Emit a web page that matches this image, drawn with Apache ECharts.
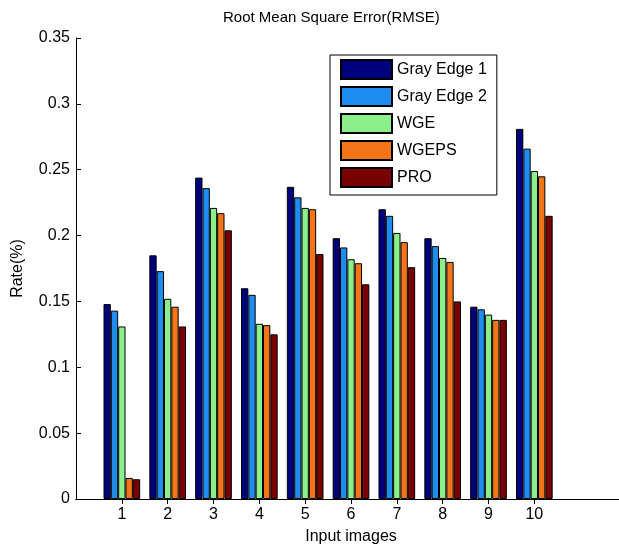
<!DOCTYPE html>
<html lang="en">
<head>
    <meta charset="UTF-8">
    <title>Root Mean Square Error(RMSE)</title>
    <style>
        html, body {margin: 0; padding: 0; background: #fff;}
        #chart {width: 619px; height: 548px;}
    </style>
</head>
<body>
<div id="chart"></div>
<script src="https://cdn.jsdelivr.net/npm/echarts@6/dist/echarts.min.js"></script>
<script>
    // values
    let categories = ['1', '2', '3', '4', '5', '6', '7', '8', '9', '10'];
    let grayEdge1  = [0.148, 0.185, 0.244, 0.160, 0.237, 0.198, 0.220, 0.198, 0.146, 0.281];
    let grayEdge2  = [0.143, 0.173, 0.236, 0.155, 0.229, 0.191, 0.215, 0.192, 0.144, 0.266];
    let wge        = [0.131, 0.152, 0.221, 0.133, 0.221, 0.182, 0.202, 0.183, 0.140, 0.249];
    let wgeps      = [0.016, 0.146, 0.217, 0.132, 0.220, 0.179, 0.195, 0.180, 0.136, 0.245];
    let pro        = [0.015, 0.131, 0.204, 0.125, 0.186, 0.163, 0.176, 0.150, 0.136, 0.215];
    let seriesNames  = ['Gray Edge 1', 'Gray Edge 2', 'WGE', 'WGEPS', 'PRO'];
    let seriesColors = ['#00007c', '#1e8cf0', '#8cf08a', '#f47418', '#780000'];

    let font = "'Liberation Sans', Arial, sans-serif";

    // axis runs 0..12 like the matlab plot, groups sit on 1..10
    let axisCats = [''].concat(categories, ['', '']);
    let pad      = function (arr) {
        return ['-'].concat(arr, ['-', '-']);
    };
    let tickShown = function (index) {
        return index >= 1 && index <= 10;
    };

    let chart = echarts.init(document.getElementById('chart'));

    let series = [grayEdge1, grayEdge2, wge, wgeps, pro].map(function (vals, i) {
        return {
            name          : seriesNames[i],
            type          : 'bar',
            data          : pad(vals),
            barGap        : 0,
            barCategoryGap: '20%',
            itemStyle     : {
                color      : seriesColors[i],
                borderColor: '#000',
                borderWidth: 1
            }
        };
    });

    let option = {
        backgroundColor: '#fff',
        animation      : false,
        title          : {
            text     : 'Root Mean Square Error(RMSE)',
            left     : 223,
            top      : 10,
            padding  : 0,
            textStyle: {fontFamily: font, fontSize: 15, fontWeight: 'normal', color: '#000'}
        },
        legend         : {
            orient         : 'vertical',
            left           : 330,
            top            : 55,
            padding        : [4, 10, 7, 10],
            itemWidth      : 51,
            itemHeight     : 19,
            itemGap        : 6,
            icon           : 'rect',
            backgroundColor: '#fff',
            borderColor    : '#000',
            borderWidth    : 1,
            textStyle      : {fontFamily: font, fontSize: 16, color: '#000'},
            data           : seriesNames
        },
        // the plot box runs a little past the right edge of the picture
        grid           : {left: 76, top: 38, width: 550, height: 461, outerBoundsMode: 'none', containLabel: false},
        xAxis          : [
            {
                type         : 'category',
                data         : axisCats,
                boundaryGap  : false,
                name         : 'Input images',
                nameLocation : 'middle',
                nameGap      : 30,
                nameTextStyle: {fontFamily: font, fontSize: 16, color: '#000'},
                axisLine     : {lineStyle: {color: '#000', width: 1}},
                axisTick     : {inside: true, length: 5, interval: tickShown, lineStyle: {color: '#000'}},
                axisLabel    : {interval: 0, margin: 8, fontFamily: font, fontSize: 16, color: '#000'},
                splitLine    : {show: false}
            },
            {
                type       : 'category',
                data       : axisCats,
                boundaryGap: false,
                position   : 'top',
                axisLine   : {lineStyle: {color: '#000', width: 1}},
                axisTick   : {inside: true, length: 5, interval: tickShown, lineStyle: {color: '#000'}},
                axisLabel  : {show: false},
                splitLine  : {show: false}
            }
        ],
        yAxis          : [
            {
                type         : 'value',
                min          : 0,
                max          : 0.35,
                interval     : 0.05,
                name         : 'Rate(%)',
                nameLocation : 'middle',
                nameGap      : 50,
                nameTextStyle: {fontFamily: font, fontSize: 16, color: '#000'},
                axisLine     : {show: true, lineStyle: {color: '#000', width: 1}},
                axisTick     : {show: true, inside: true, length: 5, lineStyle: {color: '#000'}},
                axisLabel    : {margin: 6, fontFamily: font, fontSize: 16, color: '#000'},
                splitLine    : {show: false}
            },
            {
                type     : 'value',
                min      : 0,
                max      : 0.35,
                interval : 0.05,
                position : 'right',
                axisLine : {show: true, lineStyle: {color: '#000', width: 1}},
                axisTick : {show: true, inside: true, length: 5, lineStyle: {color: '#000'}},
                axisLabel: {show: false},
                splitLine: {show: false}
            }
        ],
        series         : series
    };

    chart.setOption(option);
</script>
</body>
</html>
